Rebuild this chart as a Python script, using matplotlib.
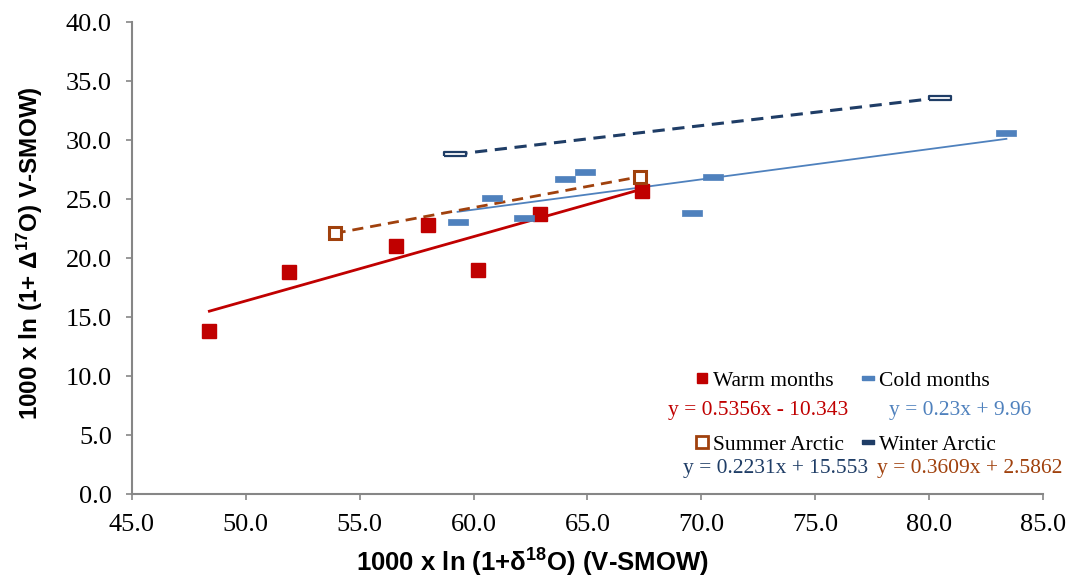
import numpy as np
import matplotlib
matplotlib.use('Agg')
from matplotlib import pyplot as plt
from matplotlib.lines import Line2D

# data
warm_x = [48.4, 51.9, 56.6, 58.0, 60.2, 62.9, 67.4]
warm_y = [13.8, 18.8, 21.0, 22.8, 19.0, 23.7, 25.7]
cold_x = [59.3, 60.8, 62.2, 64.0, 64.9, 69.6, 70.5, 83.4]
cold_y = [23.1, 25.1, 23.4, 26.7, 27.3, 23.8, 26.9, 30.6]
summer_x = [53.9, 67.3]
summer_y = [22.1, 26.9]
winter_x = [59.2, 80.5]
winter_y = [28.8, 33.6]

eq_warm = 'y = 0.5356x - 10.343'
eq_cold = 'y = 0.23x + 9.96'
eq_winter = 'y = 0.2231x + 15.553'
eq_summer = 'y = 0.3609x + 2.5862'

RED = '#C00000'
BLUE = '#4F81BD'
NAVY = '#1F3D66'
BROWN = '#A0410D'

plt.rcParams['font.family'] = ['Liberation Serif', 'DejaVu Serif']

W, H = 1078, 584

# wide rectangle markers (dashes)
dash = [(-1.5, -0.42), (1.5, -0.42), (1.5, 0.42), (-1.5, 0.42), (-1.5, -0.42)]
dash_thin = [(-1.5, -0.28), (1.5, -0.28), (1.5, 0.28), (-1.5, 0.28), (-1.5, -0.28)]

fig = plt.figure(figsize=(W / 100, H / 100), dpi=100)
ax = fig.add_axes([0.1224, 0.154, 0.845, 0.808])


def trend(ax, x, y, **kw):
    k, b = np.polyfit(x, y, 1)
    xs = np.array([min(x), max(x)])
    ax.plot(xs, k * xs + b, **kw)


trend(ax, warm_x, warm_y, color=RED, lw=2.0, zorder=2)
trend(ax, cold_x, cold_y, color=BLUE, lw=1.3, zorder=2)
trend(ax, summer_x, summer_y, color=BROWN, lw=2.0, ls=(0, (4, 2.5)), zorder=2)
trend(ax, winter_x, winter_y, color=NAVY, lw=2.2, ls=(0, (4, 2.5)), zorder=2)

ax.plot(warm_x, warm_y, ls='none', marker='s', ms=10, color=RED, mec=RED, zorder=3)
ax.plot(cold_x, cold_y, ls='none', marker=dash, ms=14.5, color=BLUE, mec=BLUE, mew=0.5, zorder=3)
ax.plot(summer_x, summer_y, ls='none', marker='s', ms=9, mfc='white', mec=BROWN, mew=2.2, zorder=3)
ax.plot(winter_x, winter_y, ls='none', marker=dash_thin, ms=16.5, mfc='white', mec=NAVY, mew=1.6, zorder=3)

ax.set_xlim(45, 85)
ax.set_ylim(0, 40)
ax.set_xticks(np.arange(45, 86, 5))
ax.set_yticks(np.arange(0, 41, 5))
ax.xaxis.set_major_formatter(matplotlib.ticker.FormatStrFormatter('%.1f'))
ax.yaxis.set_major_formatter(matplotlib.ticker.FormatStrFormatter('%.1f'))
ax.tick_params(labelsize=19, color='#868686', length=4.5, width=1.2, direction='out', pad=10)
for s in ['top', 'right']:
    ax.spines[s].set_visible(False)
for s in ['left', 'bottom']:
    ax.spines[s].set_color('#868686')
    ax.spines[s].set_linewidth(1.5)

ax.set_xlabel('1000 x ln (1+$\\mathregular{\\delta^{18}}$O) (V-SMOW)', family='Liberation Sans',
              fontweight='bold', fontsize=18.5)
ax.set_ylabel('1000 x ln (1+ $\\mathregular{\\Delta^{17}}$O) V-SMOW)', family='Liberation Sans',
              fontweight='bold', fontsize=17.5)
ax.xaxis.set_label_coords(0.44, -0.112)
ax.yaxis.set_label_coords(-0.095, 0.51)

handles = [
    Line2D([], [], ls='none', marker='s', ms=7.5, color=RED),
    Line2D([], [], ls='none', marker='s', ms=8, mfc='white', mec=BROWN, mew=2),
    Line2D([], [], ls='none', marker=dash, ms=9, color=BLUE),
    Line2D([], [], ls='none', marker=dash, ms=9, color=NAVY),
]
labels = ['Warm months', 'Summer Arctic', 'Cold months', 'Winter Arctic']
ax.legend(handles, labels, ncol=2, loc='upper left',
          bbox_to_anchor=((687 - 132) / 911, (494 - 362) / 472),
          frameon=False, fontsize=15.5, labelspacing=2.05, handlelength=0.6,
          handletextpad=0.2, columnspacing=0.85, borderaxespad=0)

eq_fs = 15.5
fig.text(758 / W, 1 - 410 / H, eq_warm, color=RED, fontsize=eq_fs, ha='center', va='center')
fig.text(960 / W, 1 - 410 / H, eq_cold, color=BLUE, fontsize=eq_fs, ha='center', va='center')
fig.text(776 / W, 1 - 468 / H, eq_winter, color=NAVY, fontsize=eq_fs, ha='center', va='center')
fig.text(970 / W, 1 - 468 / H, eq_summer, color=BROWN, fontsize=eq_fs, ha='center', va='center')

fig.savefig('out.png', dpi=100)
